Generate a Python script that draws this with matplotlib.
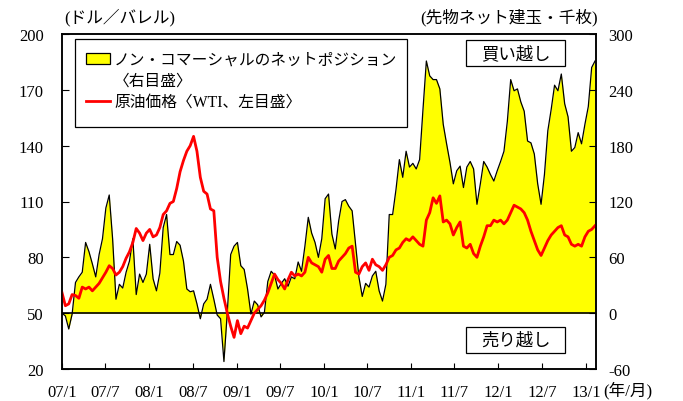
import pandas as pd
import matplotlib
matplotlib.use('Agg')
import matplotlib.pyplot as plt
from matplotlib.patches import Patch, Rectangle
from matplotlib.lines import Line2D

plt.rcParams['font.family'] = ['Liberation Serif', 'Noto Sans CJK JP']
plt.rcParams['axes.unicode_minus'] = False

# non-commercial net position (thousand contracts, right axis), ~biweekly
net_pos = [0, -3, -17, -1, 33, 39, 44, 76, 66, 53,
           39, 63, 80, 113, 127, 80, 15, 31, 27, 44,
           56, 80, 20, 42, 33, 42, 74, 37, 24, 43,
           92, 106, 63, 63, 77, 73, 56, 26, 23, 24,
           10, -6, 10, 15, 31, 15, -2, -6, -52, 1,
           63, 72, 76, 51, 47, 26, -1, 13, 9, -4,
           1, 34, 45, 41, 26, 32, 37, 29, 39, 37,
           55, 45, 72, 103, 86, 76, 60, 80, 123, 128,
           85, 69, 99, 120, 122, 115, 110, 74, 39, 18,
           32, 28, 40, 45, 24, 13, 31, 106, 106, 133,
           165, 146, 174, 157, 161, 155, 165, 219, 271, 255,
           251, 251, 241, 203, 182, 162, 139, 153, 158, 135,
           157, 163, 155, 117, 139, 163, 157, 149, 142, 153,
           163, 174, 206, 251, 239, 241, 227, 217, 185, 183,
           171, 139, 117, 149, 196, 219, 245, 239, 257, 225,
           211, 174, 178, 194, 182, 203, 222, 264, 271]

# WTI crude oil price (USD/bbl, left axis)
wti = [61, 54, 55, 60, 59.5, 58, 64, 63, 64, 62,
       64, 66, 69, 72, 75.5, 74, 70.5, 72, 75, 79.5,
       83, 88, 95.5, 93, 89, 93, 95, 91, 92, 96,
       103, 105, 109, 110, 117, 126, 132, 137, 140, 145,
       137, 123, 115.5, 114, 106, 105, 80, 67, 58, 50,
       43, 37, 46, 39, 43, 42, 46, 50, 52, 54,
       57, 61, 66, 71, 68, 66, 63, 68, 72, 70,
       71, 70, 72, 80, 77, 76, 75, 72, 79, 81,
       74, 74, 78, 80, 82, 85, 86, 72, 71, 75,
       77, 73, 79, 76, 75, 73, 76, 80, 81, 84,
       85, 88, 90, 89, 91, 89, 87, 86, 100, 104,
       112, 109, 113, 99, 100, 98, 92, 96, 99, 86,
       85, 87, 82, 80, 86, 91, 97, 97, 100, 99,
       100, 98, 100, 104, 108, 107, 106, 104, 100, 94,
       89, 84, 81, 85, 89, 92, 94, 96, 97, 92,
       91, 87, 86, 87, 86, 91, 94, 95, 97]

dates = pd.date_range('2007-01-01', '2013-02-08', periods=len(net_pos))

xtick_dates = pd.date_range('2007-01-01', '2013-01-01', freq='6MS')
xtick_labels = ['07/1', '07/7', '08/1', '08/7', '09/1', '09/7', '10/1',
                '10/7', '11/1', '11/7', '12/1', '12/7', '13/1']

fig = plt.figure(figsize=(6.83, 4.02), dpi=100)
ax1 = fig.add_axes([62/683, 32/402, 534/683, 335/402])
ax2 = ax1.twinx()
ax1.set_zorder(ax2.get_zorder() + 1)
ax1.patch.set_visible(False)

# net position: yellow area with black outline
ax2.fill_between(dates, 0, net_pos, color='#ffff00', lw=0)
ax2.plot(dates, net_pos, color='black', lw=0.9)
ax2.axhline(0, color='black', lw=1.2)
ax2.set_ylim(-60, 300)
ax2.set_yticks(range(-60, 301, 60))

# oil price
ax1.plot(dates, wti, color='#ff0000', lw=2)
ax1.set_ylim(20, 200)
ax1.set_yticks(range(20, 201, 30))
ax1.set_xlim(pd.Timestamp('2007-01-01'), pd.Timestamp('2013-02-12'))
ax1.set_xticks(xtick_dates)
ax1.set_xticklabels(xtick_labels)

ax1.tick_params(axis='x', direction='in', length=4, pad=11, labelsize=12)
ax1.tick_params(axis='y', direction='in', length=5, pad=13, labelsize=12)
ax2.tick_params(axis='y', direction='in', length=5, pad=9, labelsize=12)
for ax in (ax1, ax2):
    for s in ax.spines.values():
        s.set_linewidth(1.1)

# legend
ax1.add_patch(Rectangle((13/534, 1 - 93/335), 332/534, 88/335, transform=ax1.transAxes,
                        facecolor='white', edgecolor='black', lw=0.9, zorder=5))
handles = [Patch(facecolor='#ffff00', edgecolor='black', lw=0.9),
           Patch(facecolor='none', edgecolor='none'),
           Line2D([], [], color='#ff0000', lw=2)]
labels = ['ノン・コマーシャルのネットポジション', '〈右目盛〉', '原油価格〈WTI、左目盛〉']
leg = ax1.legend(handles, labels, loc='upper left', bbox_to_anchor=(24/534, 1 - 18/335),
                 frameon=False, fontsize=11.3, handlelength=1.5, handleheight=0.65,
                 handletextpad=0.3, labelspacing=0.32, borderpad=0, borderaxespad=0)
leg.set_zorder(6)

# buy / sell boxes
for y0, txt in [(1 - 32/335, '買い越し'), (1 - 319/335, '売り越し')]:
    ax1.add_patch(Rectangle((404/534, y0), 99/534, 26/335, transform=ax1.transAxes,
                            facecolor='white', edgecolor='black', lw=0.9, zorder=5))
    ax1.text((404 + 49.5)/534, y0 + 13/335, txt, transform=ax1.transAxes, ha='center',
             va='center', fontsize=12.5, family='Noto Sans CJK JP', zorder=6)

fig.text(64/683, 1 - 18/402, '(ドル／バレル)', ha='left', va='center', fontsize=12)
fig.text(598/683, 1 - 18/402, '(先物ネット建玉・千枚)', ha='right', va='center', fontsize=12)
fig.text(603/683, 1 - 391/402, '(年/月)', ha='left', va='center', fontsize=12)

fig.savefig('out.png', dpi=100)
